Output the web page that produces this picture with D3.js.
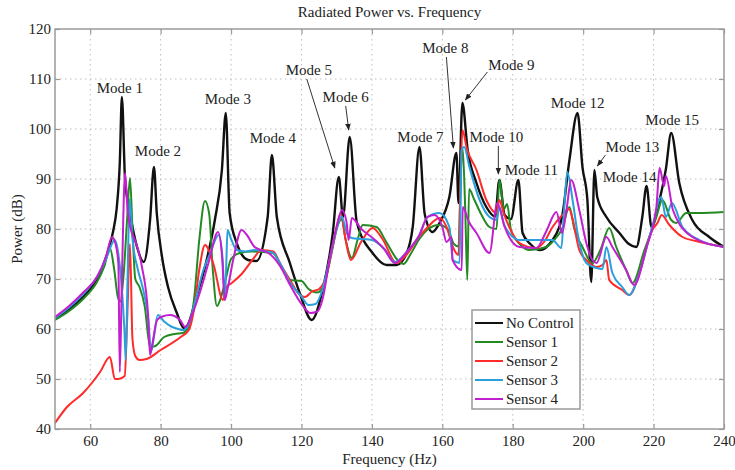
<!DOCTYPE html>
<html>
<head>
<meta charset="UTF-8">
<title>Radiated Power vs. Frequency</title>
<style>
  body { margin: 0; background: #fff; }
  text { font-family: "Liberation Serif", "DejaVu Serif", serif; fill: #222; }
  .grid line { stroke: #bdbdbd; stroke-width: 1; stroke-dasharray: 1.5,3.5; }
  .frame { fill: none; stroke: #9a9a9a; stroke-width: 1.5; }
  .tick line { stroke: #9a9a9a; stroke-width: 1.2; }
  .curve { fill: none; stroke-linejoin: round; stroke-linecap: round; }
</style>
</head>
<body>
<script src="https://d3js.org/d3.v7.min.js"></script>
<script>
// series: [frequency (Hz), power (dB)]
var noControl = [[50,62],[55,64.6],[60,68],[63,71.5],[65,75.5],[66.5,79.5],[67.5,84],[68.4,93.2],[69,106.4],[69.9,89.8],[71.3,83.2],[73.3,76.4],[75.2,73.4],[77,81.8],[78.1,92.4],[78.9,83.2],[80.4,74.4],[82.1,68.4],[84.6,63.2],[86.6,60.2],[87.7,60.8],[90,66],[92.6,72.4],[95.4,81.8],[97.4,91.8],[98.5,103.2],[99.6,83.2],[101.6,77.2],[104.8,73.8],[107.2,73.6],[110.4,82.4],[111.6,94.8],[113,82.4],[116.7,73.2],[119.5,67.2],[122.9,61.8],[126,67.8],[128.9,79.2],[130.6,90.4],[131.8,82.4],[133.7,98.4],[135.7,81.4],[140.2,75.2],[144.2,72.8],[147,72.8],[149.9,75.2],[151.6,80.4],[153.5,96.4],[155,83],[157.2,79.4],[159.2,81.2],[162,86.4],[164,95.2],[164.6,85.2],[165.7,105.2],[167.2,95.8],[169.7,89.2],[172.5,84.4],[175,82.5],[176.2,89.8],[177.7,82.8],[179.5,82],[181.6,89.8],[182.8,79.2],[185,77],[187.6,75.8],[191.3,77.8],[194,82.4],[196.1,93.8],[198.4,103.2],[199.8,92.4],[201.2,85.8],[202.3,69.4],[203.2,91.8],[204,86.4],[206.6,82.4],[210.3,79.2],[213,77],[215.1,76.4],[216.8,82.4],[218,88.6],[219.4,80.4],[221.7,85.8],[223.5,92],[225,99.2],[227.3,89.2],[231,81.8],[235.8,78.4],[240,76.4]];

var sensor1 = [[50,61.8],[54,63.6],[58,66],[62,69.5],[64,72.5],[65.6,76.2],[66.8,72],[67.9,66.2],[68.6,65.5],[69.5,71],[70.4,81],[71.3,90.2],[72,80],[72.8,70],[74,68.4],[75.5,64.5],[77,56.4],[78.5,56.6],[81,58.4],[84,59],[86.3,59.2],[88,60.5],[89.5,66],[91,78],[92.6,85.6],[93.8,83],[94.8,72],[96,64.6],[97,66],[98.5,70],[100,74],[102.5,75.2],[106,75.5],[111.8,75.2],[114,73],[116.7,69.8],[120,69.6],[122,68],[124.5,67.3],[126.5,69],[128.5,75],[130.2,80.5],[131.4,82],[132.5,78],[134.3,74.2],[136,78],[137.4,80.8],[141.3,80.4],[144,77.5],[147.3,73.8],[149,73],[151,75],[153.5,78],[156,80],[159,80.8],[161.5,80],[163.3,77],[164.6,76.5],[165.3,92],[165.8,96],[166.5,84],[167.1,69.8],[167.6,88],[169,86],[171,83],[173.4,80.4],[175.4,80],[176.2,89.8],[177.5,84],[178.4,85],[179.5,79.8],[182,77],[184.8,75.8],[189.5,76.4],[192,78],[194,80],[196.1,84.4],[197.5,80],[199.8,76.4],[202.6,73.2],[205,76],[207.4,80.2],[209.4,76.4],[212.2,71.8],[214,69.2],[217.4,75.8],[220.8,82.4],[222.5,85.8],[225,81.8],[226.4,81.2],[229.3,83.2],[233,83.2],[240,83.4]];

var sensor2 = [[50,41.2],[53.4,44.4],[58,47.2],[62.8,51.4],[65.6,54.4],[67,50],[68,50],[69.8,50.6],[70.5,62],[71.3,77],[72,58],[72.8,54.6],[74,53.8],[76,54],[80,55.8],[85.7,58.4],[88,59.8],[89.5,64],[91,72],[92.6,76.8],[95,73],[97.7,65.8],[98.8,68.5],[100.2,69.2],[103,71],[106.7,74.4],[108.5,75.8],[112,75.5],[114,73],[117,69.5],[119,67.2],[121,66.4],[123,67.5],[125,68],[127,70.5],[129,77],[131.2,83],[132.5,78],[134,73.8],[137,77.5],[140.2,80.2],[143,78],[147,73.2],[150,75],[153.5,78.5],[156,80.5],[159.2,82.2],[161.2,80.4],[163,76.4],[164.6,74.8],[165.2,90],[165.7,99.8],[167,96],[169.7,91.8],[172.5,85.8],[175.4,83.2],[176.2,85.8],[177.5,83],[179,80.4],[181.9,77.2],[186.7,76.2],[189,77.5],[191.3,80.4],[194.1,82.8],[196,84],[197,82],[198.9,75.8],[200.9,73.8],[203.8,72.4],[205.5,72.8],[206.6,73.8],[207.4,69.8],[211.1,67.8],[213.1,66.8],[216,71.2],[219.6,79.8],[221.1,81.2],[222.3,82.8],[224.5,80.8],[228.2,78.4],[232,77.6],[240,76.4]];

var sensor3 = [[50,62.2],[54,64.3],[58,67],[62,70.5],[64.5,74],[67,77.8],[68,75],[69,68],[69.7,60],[70.1,53.8],[70.6,70],[71.2,86],[72,78],[73.5,72],[75,68],[76.5,62],[77.3,55.5],[78,58],[79.2,62.8],[81,61.5],[83,60.5],[85,60],[86.5,59.8],[88,61],[90,66],[92,71.5],[94,75],[96.5,78.8],[97.6,74],[98.2,65.8],[98.6,72],[99,79.8],[100,78],[101.6,75.8],[104,75.5],[106.7,75.8],[110,75.5],[112,75.2],[114,73],[117,69],[120,66.5],[122,64.8],[124,65],[126,68],[128,74],[130,80],[131.4,82.5],[133,79],[134.3,78.2],[137,78],[140,77.8],[143.5,76],[146.5,73.4],[150,75.5],[153.5,78.8],[155.8,82.4],[159.2,83.2],[162,80.4],[163,73.8],[164.9,73.2],[165.5,95.8],[166.2,96.4],[167.7,92.4],[170.6,85.8],[173.4,82.4],[175.4,81.8],[176.2,84.4],[177.5,81],[179,79.2],[181.9,77.8],[186.7,77.8],[191.3,77.8],[193.8,76.2],[194.6,84],[195.5,91.4],[197,85.8],[198.4,79.2],[200.9,73.2],[203.8,72.2],[205.5,72],[206.6,76.4],[208.3,71.2],[211.1,68.4],[213.1,66.8],[216,71.2],[219.6,80.4],[222.2,86.4],[223.5,82.4],[225.2,85.2],[228.2,80.4],[233,77.8],[240,76.4]];

var sensor4 = [[50,62.4],[54,64.6],[58,67.3],[62,70.5],[64.5,74.5],[66.2,78.4],[67.2,77],[68,73],[68.4,51.4],[69,70],[69.9,91.2],[70.6,84],[71.5,80],[72.7,77.8],[74.7,72.4],[76.4,63.2],[77,54.8],[77.5,56.4],[79,61.8],[80.5,62.5],[82.6,62.8],[85.5,61.8],[87,60.4],[89,63],[91,67],[93.5,73],[96.3,79.4],[97.5,74],[98.2,65.8],[99,68],[100.6,73.8],[103,79.8],[104.5,78.8],[106.7,76.4],[108.5,75.8],[111,75],[114,72.5],[117,68.5],[120,65],[122.5,63.2],[124.5,63.5],[126,66],[128,74],[130,80.5],[131.5,83.8],[132.8,81.4],[133.4,77.8],[134.3,82.2],[137,80],[140.2,78.2],[143.5,76],[146.5,73.2],[150,75.5],[153.5,78.8],[155.8,82.4],[157.8,82.8],[160,80.4],[161.2,77.4],[162.6,78.4],[162.9,73.8],[165.5,71.8],[165.8,84.4],[167.5,81.5],[169.7,79.2],[173.4,75.2],[175.6,85.2],[177.7,80.4],[181.9,76.4],[186.7,76.2],[189.5,79.5],[192.4,83.4],[194,79.2],[195.3,84],[196.6,89.8],[198.9,83.8],[200.9,77.2],[202.6,73.8],[203.8,73.2],[206.6,78.4],[208.3,76.4],[212.2,71.8],[214.5,68.8],[218,76.4],[220.8,84.4],[221.7,92.2],[223,88.6],[223.5,90.6],[225.5,83.8],[231,78.4],[240,76.4]];

var seriesNames = ["No Control", "Sensor 1", "Sensor 2", "Sensor 3", "Sensor 4"];
var seriesColors = ["#111111", "#238a23", "#ff2a2a", "#2b9fdc", "#c21fcf"];

var xTicks = [60, 80, 100, 120, 140, 160, 180, 200, 220, 240];
var yTicks = [40, 50, 60, 70, 80, 90, 100, 110, 120];

// mode annotations: label and the peak it belongs to (Hz, dB)
var modeNames = ["Mode 1","Mode 2","Mode 3","Mode 4","Mode 5","Mode 6","Mode 7","Mode 8",
                 "Mode 9","Mode 10","Mode 11","Mode 12","Mode 13","Mode 14","Mode 15"];
var modePeaks = [[69,106.4],[78.1,92.4],[98.5,103.2],[111.6,94.8],[130.6,90.4],[133.7,98.4],
                 [153.5,96.4],[164,95.2],[165.7,105.2],[176.2,89.8],[181.6,89.8],[198.4,103.2],
                 [203.2,91.8],[218,88.6],[225,99.2]];

// layout: label offset from peak (px), optional arrow start/end offsets (px)
var labelLayout = [
  {d: [-2, -9]}, {d: [4, -16]}, {d: [2, -14]}, {d: [1, -17]},
  {d: [-30, -107], a: [[-32, -98], [-4, -9]]},
  {d: [-4, -40], a: [[-4, -31], [-1, -7]]},
  {d: [1, -10]},
  {d: [-11, -105], a: [[-10, -96], [-3, -5]]},
  {d: [49, -38], a: [[25, -31], [3, -3]]},
  {d: [-3, -43], a: [[-1, -34], [-1, -6]]},
  {d: [13, -10]}, {d: [0, -10]},
  {d: [38, -23], a: [[11, -15], [3, -4]]},
  {d: [-17, -9]}, {d: [1, -13]}
];

var margin = {top: 29, right: 11, bottom: 41, left: 55},
    width = 735 - margin.left - margin.right,
    height = 470 - margin.top - margin.bottom;

var x = d3.scaleLinear().domain([50, 240]).range([0, width]);
var y = d3.scaleLinear().domain([40, 120]).range([height, 0]);

var svg = d3.select("body").append("svg")
    .attr("width", 735)
    .attr("height", 470);

svg.append("defs").append("marker")
    .attr("id", "arrow")
    .attr("viewBox", "0 0 10 10")
    .attr("refX", 9).attr("refY", 5)
    .attr("markerWidth", 7).attr("markerHeight", 7)
    .attr("markerUnits", "userSpaceOnUse")
    .attr("orient", "auto")
  .append("path")
    .attr("d", "M0,1L10,5L0,9Z")
    .attr("fill", "#222");

svg.select("defs").append("clipPath")
    .attr("id", "clip")
  .append("rect")
    .attr("width", width)
    .attr("height", height);

var g = svg.append("g")
    .attr("transform", "translate(" + margin.left + "," + margin.top + ")");

// grid
g.append("g").attr("class", "grid")
  .selectAll("line").data(xTicks.filter(function(d) { return d < 240; }))
  .enter().append("line")
    .attr("x1", function(d) { return x(d); }).attr("x2", function(d) { return x(d); })
    .attr("y1", 0).attr("y2", height);

g.append("g").attr("class", "grid")
  .selectAll("line").data(yTicks.filter(function(d) { return d > 40 && d < 120; }))
  .enter().append("line")
    .attr("y1", function(d) { return y(d); }).attr("y2", function(d) { return y(d); })
    .attr("x1", 0).attr("x2", width);

// axes (MATLAB style: inward ticks on all four sides)
g.append("g")
    .attr("transform", "translate(0," + height + ")")
    .call(d3.axisBottom(x).tickValues(xTicks).tickSizeInner(-5).tickSizeOuter(0).tickPadding(6));
g.append("g")
    .call(d3.axisLeft(y).tickValues(yTicks).tickSizeInner(-5).tickSizeOuter(0).tickPadding(4));
g.append("g")
    .call(d3.axisTop(x).tickValues(xTicks).tickSizeInner(-5).tickSizeOuter(0).tickFormat(""));
g.append("g")
    .attr("transform", "translate(" + width + ",0)")
    .call(d3.axisRight(y).tickValues(yTicks).tickSizeInner(-5).tickSizeOuter(0).tickFormat(""));

g.selectAll(".domain").remove();
g.selectAll(".tick text").attr("font-size", 15).style("font-family", "'Liberation Serif', serif").attr("fill", "#333");
g.selectAll(".tick line").attr("stroke", "#9a9a9a");

// curves
var line = d3.line()
    .x(function(d) { return x(d[0]); })
    .y(function(d) { return y(d[1]); })
    .curve(d3.curveMonotoneX);

var allSeries = [noControl, sensor1, sensor2, sensor3, sensor4];

g.append("g").attr("clip-path", "url(#clip)")
  .selectAll("path").data(allSeries)
  .enter().append("path")
    .attr("class", "curve")
    .attr("d", line)
    .attr("stroke", function(d, i) { return seriesColors[i]; })
    .attr("stroke-width", function(d, i) { return i === 0 ? 2.4 : 2; });

// frame
g.append("rect").attr("class", "frame")
    .attr("width", width).attr("height", height);

// annotations
modeNames.forEach(function(name, i) {
  var px = x(modePeaks[i][0]), py = y(modePeaks[i][1]);
  var lay = labelLayout[i];
  if (lay.a) {
    g.append("line")
      .attr("x1", px + lay.a[0][0]).attr("y1", py + lay.a[0][1])
      .attr("x2", px + lay.a[1][0]).attr("y2", py + lay.a[1][1])
      .attr("stroke", "#333").attr("stroke-width", 1)
      .attr("marker-end", "url(#arrow)");
  }
  g.append("text")
    .attr("x", px + lay.d[0])
    .attr("y", py + lay.d[1])
    .attr("dy", "0.35em")
    .attr("text-anchor", "middle")
    .attr("font-size", 15)
    .text(name);
});

// title and axis labels
svg.append("text")
    .attr("x", margin.left + width / 2).attr("y", 17)
    .attr("text-anchor", "middle").attr("font-size", 15)
    .text("Radiated Power vs. Frequency");

svg.append("text")
    .attr("x", margin.left + width / 2).attr("y", 464)
    .attr("text-anchor", "middle").attr("font-size", 15)
    .text("Frequency (Hz)");

svg.append("text")
    .attr("transform", "translate(22," + (margin.top + height / 2) + ") rotate(-90)")
    .attr("text-anchor", "middle").attr("font-size", 15)
    .text("Power (dB)");

// legend
var legend = svg.append("g").attr("transform", "translate(472,310)");
legend.append("rect")
    .attr("width", 108).attr("height", 99)
    .attr("fill", "#fff").attr("stroke", "#9a9a9a").attr("stroke-width", 1.5);
var entry = legend.selectAll(".entry").data(seriesNames)
  .enter().append("g")
    .attr("transform", function(d, i) { return "translate(0," + (13 + i * 19) + ")"; });
entry.append("line")
    .attr("x1", 3).attr("x2", 31)
    .attr("stroke", function(d, i) { return seriesColors[i]; })
    .attr("stroke-width", 2);
entry.append("text")
    .attr("x", 34).attr("dy", "0.35em")
    .attr("font-size", 15)
    .text(function(d) { return d; });
</script>
</body>
</html>
